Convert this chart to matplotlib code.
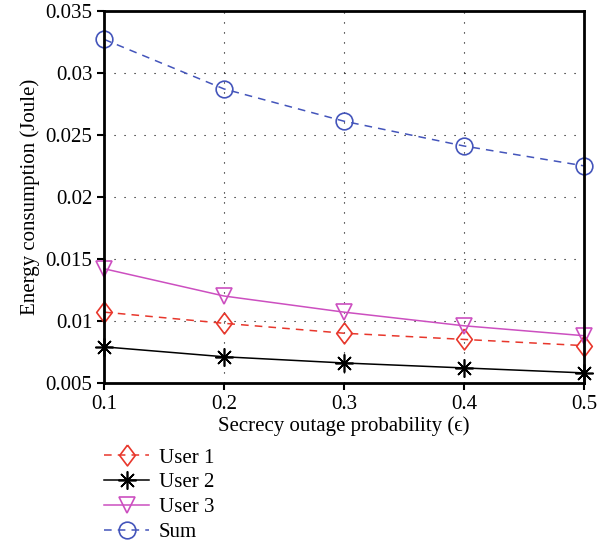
import matplotlib
matplotlib.use("Agg")
import matplotlib.pyplot as plt

plt.rcParams['font.family'] = ['Liberation Serif', 'DejaVu Serif']

eps = [0.1, 0.2, 0.3, 0.4, 0.5]
user1 = [0.0107, 0.0098, 0.0090, 0.0085, 0.0080]
user2 = [0.0079, 0.0071, 0.0066, 0.0062, 0.0058]
user3 = [0.0142, 0.0120, 0.0107, 0.0096, 0.0088]
total = [0.0327, 0.0287, 0.0261, 0.0241, 0.0225]
yticks = [0.005, 0.01, 0.015, 0.02, 0.025, 0.03, 0.035]
ylabels = ['0.005', '0.01', '0.015', '0.02', '0.025', '0.03', '0.035']

# matlab-ish tall diamond
diamond = [(0, 1), (0.75, 0), (0, -1), (-0.75, 0), (0, 1)]

fig = plt.figure(figsize=(6.16, 5.43), dpi=100)
ax = fig.add_axes([0.169, 0.295, 0.779, 0.685])

ax.plot(eps, user1, color='#e8372c', ls=(0, (5, 4)), lw=1.1, marker=diamond, ms=15,
        mfc='none', mec='#e8372c', mew=1.2, label='User 1')
ax.plot(eps, user2, color='black', ls='-', lw=1.1, marker=(8, 2, 0), ms=13,
        mew=1.2, label='User 2')
ax.plot(eps, user3, color='#cc4fc0', ls='-', lw=1.1, marker='v', ms=12,
        mfc='none', mec='#cc4fc0', mew=1.2, label='User 3')
ax.plot(eps, total, color='#4455bb', ls=(0, (5, 4)), lw=1.1, marker='o', ms=12,
        mfc='none', mec='#4455bb', mew=1.2, label='Sum')

ax.set_xlim(0.1, 0.5)
ax.set_ylim(0.005, 0.035)
ax.set_xticks(eps)
ax.set_xticklabels(['0.1', '0.2', '0.3', '0.4', '0.5'])
ax.set_yticks(yticks)
ax.set_yticklabels(ylabels)
ax.grid(True, color='black', ls=(0, (1, 8)), lw=0.8)
ax.tick_params(direction='out', length=5, width=1.5, labelsize=15)
for s in ax.spines.values():
    s.set_linewidth(2)
for c in ax.get_lines():
    c.set_clip_on(False)

ax.set_xlabel('Secrecy outage probability (ϵ)', fontsize=15, labelpad=2)
ax.set_ylabel('Energy consumption (Joule)', fontsize=15)

ax.legend(loc='upper left', bbox_to_anchor=(-0.04, -0.125), frameon=False,
          fontsize=15, handlelength=2.2, labelspacing=0.25, handletextpad=0.45)

fig.savefig('out.png', dpi=100)
